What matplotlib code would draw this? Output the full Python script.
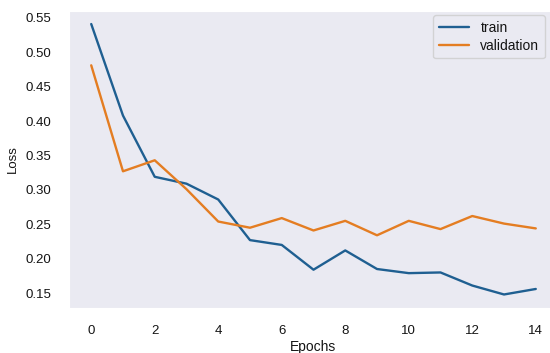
import numpy as np
import matplotlib
matplotlib.use("Agg")
import matplotlib.pyplot as plt
import seaborn as sns

# Loss per epoch for the training run
epochs = list(range(15))
train_loss = [0.541, 0.408, 0.319, 0.309, 0.286, 0.227, 0.220, 0.184,
              0.212, 0.185, 0.179, 0.180, 0.161, 0.148, 0.156]
val_loss = [0.481, 0.327, 0.343, 0.301, 0.254, 0.245, 0.259, 0.241,
            0.255, 0.234, 0.255, 0.243, 0.262, 0.251, 0.244]

sns.set_style("dark")
plt.rcParams['font.family'] = ['Liberation Sans', 'DejaVu Sans']
plt.rcParams['text.color'] = '0.08'

fig = plt.figure(figsize=(5.5, 3.53), dpi=100)
# axes run a little past the right edge of the canvas
ax = fig.add_axes([69 / 550, 45 / 353, 489 / 550, 297.5 / 353])

ax.plot(epochs, train_loss, color='#1f5f91', lw=1.7, label='train')
ax.plot(epochs, val_loss, color='#e47d22', lw=1.7, label='validation')

ax.set_xticks(range(0, 15, 2))
ax.set_yticks(np.arange(0.15, 0.551, 0.05))
ax.tick_params(axis='both', labelsize=9.5, pad=9, colors='0.08')
ax.set_xlabel("Epochs", fontsize=10, labelpad=2, color='0.08')
ax.set_ylabel("Loss", fontsize=9.5, labelpad=5, color='0.08')

ax.legend(loc='upper right', bbox_to_anchor=(545 / 550, 1 - 15 / 353),
          bbox_transform=fig.transFigure, borderaxespad=0, fontsize=10,
          handlelength=2.2, labelspacing=0.3)

fig.savefig("out.png", dpi=100)
